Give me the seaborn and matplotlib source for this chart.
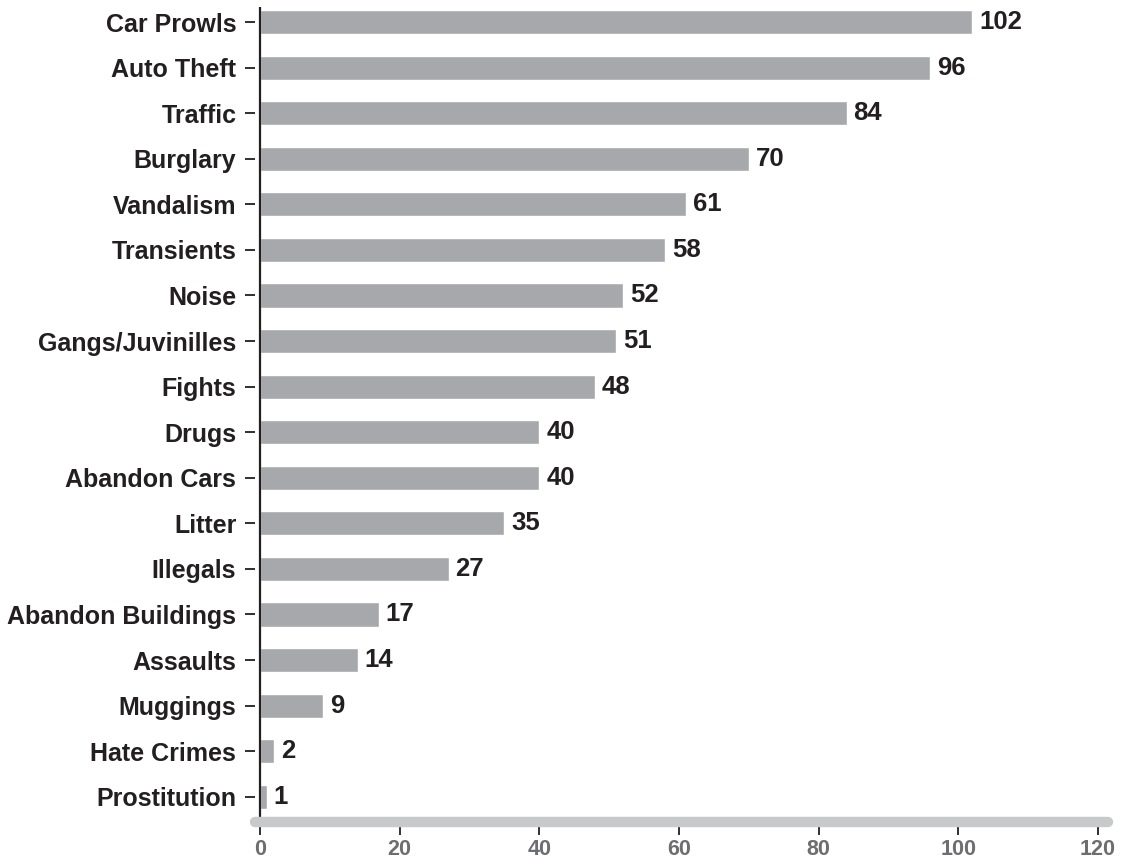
import matplotlib
matplotlib.use("Agg")
import matplotlib.pyplot as plt
import seaborn as sns
import pandas as pd

categories = ["Car Prowls", "Auto Theft", "Traffic", "Burglary", "Vandalism",
              "Transients", "Noise", "Gangs/Juvinilles", "Fights", "Drugs",
              "Abandon Cars", "Litter", "Illegals", "Abandon Buildings",
              "Assaults", "Muggings", "Hate Crimes", "Prostitution"]
counts = [102, 96, 84, 70, 61, 58, 52, 51, 48, 40, 40, 35, 27, 17, 14, 9, 2, 1]
x_ticks = [0, 20, 40, 60, 80, 100, 120]


def main():
    df = pd.DataFrame({"category": categories, "count": counts})

    sns.set_style("white")
    plt.rcParams["font.family"] = ["Liberation Sans", "DejaVu Sans"]

    fig = plt.figure(figsize=(11.28, 8.65), dpi=100)
    ax = fig.add_axes([0.2261, 0.0497, 0.756, 0.9422])

    sns.barplot(data=df, x="count", y="category", orient="h", color="#a7a8ab",
                saturation=1, width=0.53, ax=ax)

    ax.bar_label(ax.containers[0], padding=5, fontsize=18.5, fontweight="bold",
                 color="#231f20")

    ax.set_xlim(-0.7, 121.4)
    ax.set_ylim(17.555, -0.33)
    ax.set_xticks(x_ticks)
    ax.set_xlabel("")
    ax.set_ylabel("")

    # black value axis at zero
    ax.axvline(0, color="#231f20", lw=1.6, zorder=3)

    for s in ["top", "right", "left"]:
        ax.spines[s].set_visible(False)
    ax.spines["bottom"].set_color("#c8c9cb")
    ax.spines["bottom"].set_linewidth(7.5)
    ax.spines["bottom"].set_capstyle("round")
    ax.spines["bottom"].set_zorder(4)

    ax.tick_params(axis="x", bottom=True, direction="out", length=9.5, width=1.3,
                   color="#231f20", pad=3, labelsize=15.5, labelcolor="#6d6e71")
    ax.tick_params(axis="y", left=True, direction="out", length=7.5, width=1.3,
                   color="#231f20", pad=6, labelsize=18, labelcolor="#231f20")
    for lab in ax.get_xticklabels() + ax.get_yticklabels():
        lab.set_fontweight("bold")

    fig.savefig("out.png", dpi=100)


if __name__ == "__main__":
    main()
